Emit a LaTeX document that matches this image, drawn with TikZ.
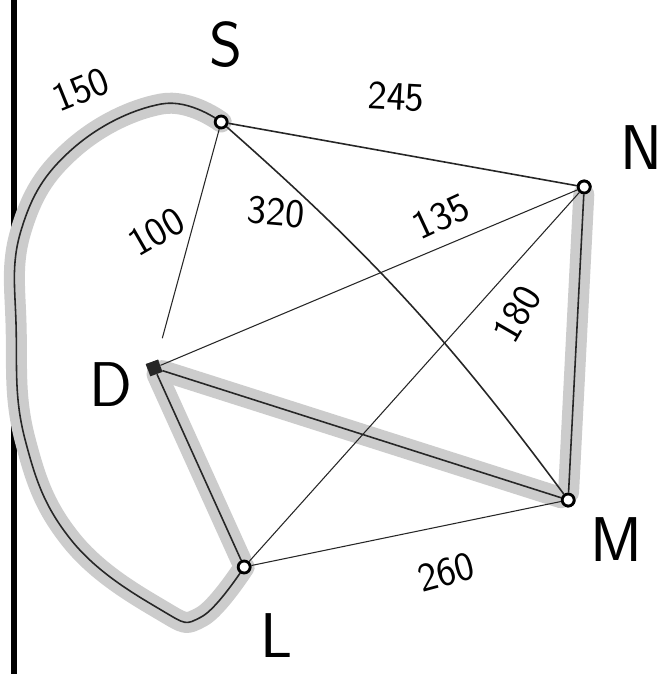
\documentclass[tikz,border=0pt]{standalone}
\usetikzlibrary{positioning}

\begin{document}
\begin{tikzpicture}[x=0.02cm,y=-0.02cm,
  vertex/.style={circle,draw,line width=1.6pt,fill=white,inner sep=0pt,minimum size=0.24cm},
  dvertex/.style={rectangle,fill=black!85,inner sep=0pt,minimum size=0.26cm,rotate=20},
  edge/.style={line width=0.9pt,black!85},
  road/.style={line width=0.6pt,black!85},
  route/.style={line width=0.42cm,black!20,line cap=round,line join=round},
  city/.style={font=\sffamily\fontsize{36}{38}\selectfont},
  dist/.style={font=\sffamily\fontsize{23}{25}\selectfont,inner sep=1pt}
]
  % page and scan edge
  \fill[white] (0,0) rectangle (656,674);
  \fill[black] (0,0) rectangle (6,674);

  % vertices
  \node[vertex] (S) at (210,122) {};
  \node[vertex] (N) at (573,187) {};
  \node[dvertex] (D) at (143,368) {};
  \node[vertex] (M) at (557,500) {};
  \node[vertex] (L) at (233,567) {};

  % chosen route (shaded)
  \draw[route] plot[smooth,tension=0.7] coordinates {(S) (150,104) (60,150) (10,230) (5,330) (14,440) (60,540) (150,610) (190,617) (L)};
  \draw[route] (L) -- (D);
  \draw[route] (D) -- (M);
  \draw[route] (M) -- (N);

  % roads
  \draw[edge] plot[smooth,tension=0.7] coordinates {(S) (150,104) (60,150) (10,230) (5,330) (14,440) (60,540) (150,610) (190,617) (L)};
  \draw[edge] (S) -- (N);
  \draw[road,shorten >=0.45cm] (S) -- (D);
  \draw[edge] (S) to[bend left=6] (M);
  \draw[road] (D) -- (N);
  \draw[road] (L) -- (N);
  \draw[edge] (D) -- (M);
  \draw[edge] (D) -- (L);
  \draw[edge] (N) -- (M);
  \draw[road] (L) -- (M);

  % redraw vertices on top
  \node[vertex] at (S) {};
  \node[vertex] at (N) {};
  \node[dvertex] at (D) {};
  \node[vertex] at (M) {};
  \node[vertex] at (L) {};

  % city names
  \node[city] (Slab) at (215,45) {S};
  \node[city] (Nlab) at (630,148) {N};
  \node[city] (Dlab) at (100,385) {D};
  \node[city] (Mlab) at (605,540) {M};
  \node[city] (Llab) at (265,636) {L};

  % distances
  \node[dist,rotate=22] (d150) at (70,90) {150};
  \node[dist,rotate=-3] (d245) at (385,97) {245};
  \node[dist,rotate=30] (d100) at (145,232) {100};
  \node[dist,rotate=-5] (d320) at (265,212) {320};
  \node[dist,rotate=25] (d135) at (430,216) {135};
  \node[dist,rotate=60] (d180) at (506,314) {180};
  \node[dist,rotate=15] (d260) at (435,572) {260};

  \useasboundingbox (0,0) rectangle (656,674);
\end{tikzpicture}
\end{document}
